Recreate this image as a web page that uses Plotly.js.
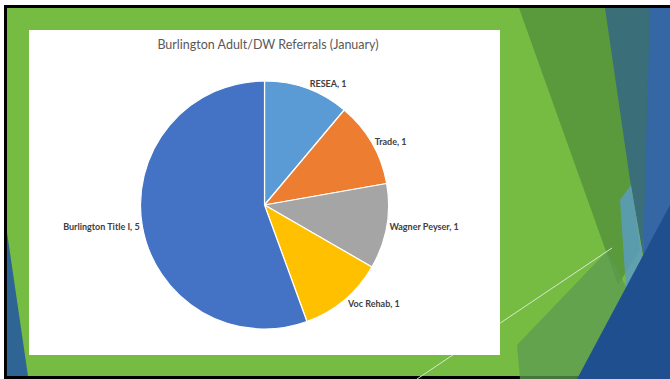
<!DOCTYPE html>
<html><head><meta charset="utf-8">
<script src="https://cdn.plot.ly/plotly-3.0.1.min.js"></script>
<style>html,body{margin:0;padding:0;background:#fff}#chart{width:670px;height:379px}</style>
</head><body><div id="chart"></div>
<script>
const categories = ['RESEA', 'Trade', 'Wagner Peyser', 'Voc Rehab', 'Burlington Title I'];
const referrals = [1, 1, 1, 1, 5];
const sliceColors = ['#5B9BD5', '#ED7D31', '#A5A5A5', '#FFC000', '#4472C4'];
const chartTitle = 'Burlington Adult/DW Referrals (January)';

const W = 670, H = 379;
function P(x, y) { return (x / W).toFixed(4) + ',' + (1 - y / H).toFixed(4); }
function poly(pts, color, op) {
  return {type: 'path', xref: 'paper', yref: 'paper', layer: 'below',
    path: 'M' + pts.map(p => P(p[0], p[1])).join('L') + 'Z',
    fillcolor: color, opacity: op || 1, line: {width: 0}};
}
function rect(x0, y0, x1, y1, color) {
  return {type: 'rect', xref: 'paper', yref: 'paper', layer: 'below',
    x0: x0 / W, x1: x1 / W, y0: 1 - y1 / H, y1: 1 - y0 / H,
    fillcolor: color, line: {width: 0}};
}

const shapes = [
  rect(4, 5, 670, 379, '#000000'),
  rect(7, 8, 670, 376, '#77BC42'),
  poly([[7, 232], [7, 376], [28, 376]], '#2E6594'),
  // right decorative facets
  poly([[519, 8], [607, 8], [632, 184], [640, 250], [618, 285]], '#5A9A3C'),
  poly([[605, 8], [656, 8], [643, 255], [630, 180]], '#3A6E78'),
  poly([[650, 8], [670, 8], [670, 379], [590, 379], [643, 255]], '#3467A3'),
  poly([[620, 200], [631, 185], [643, 258], [626, 288]], '#5C9CC0', 0.85),
  poly([[517, 345], [607, 251], [628, 290], [600, 379], [520, 379]], '#5C9B52', 0.75),
  poly([[577, 379], [670, 205], [670, 379]], '#1F4F8E'),
  {type: 'line', xref: 'paper', yref: 'paper', layer: 'below',
    x0: 417 / W, y0: 1 - 379 / H, x1: 612 / W, y1: 1 - 248 / H,
    line: {color: '#D8E8D0', width: 1}},
  rect(29, 30, 500, 355, '#FFFFFF')
];

const data = [{
  type: 'pie',
  labels: categories,
  values: referrals,
  marker: {colors: sliceColors, line: {color: '#FFFFFF', width: 1.2}},
  sort: false,
  direction: 'clockwise',
  rotation: 0,
  texttemplate: '%{label}, %{value}',
  textposition: 'outside',
  outsidetextfont: {family: 'Lato, sans-serif', size: 9, color: '#404040', weight: 'bold'},
  hoverinfo: 'label+value',
  showlegend: false,
  domain: {x: [0.2097, 0.5799], y: [0.1319, 0.7863]}
}];

const layout = {
  width: W, height: H,
  margin: {l: 0, r: 0, t: 0, b: 0},
  paper_bgcolor: '#FFFFFF',
  showlegend: false,
  title: {text: chartTitle, x: 268 / W, xanchor: 'center', y: 1 - 45 / H, yanchor: 'middle',
    font: {family: 'Lato, sans-serif', size: 12.5, color: '#595959'}},
  shapes: shapes
};

Plotly.newPlot('chart', data, layout, {displayModeBar: false, staticPlot: true});
</script>
</body></html>
